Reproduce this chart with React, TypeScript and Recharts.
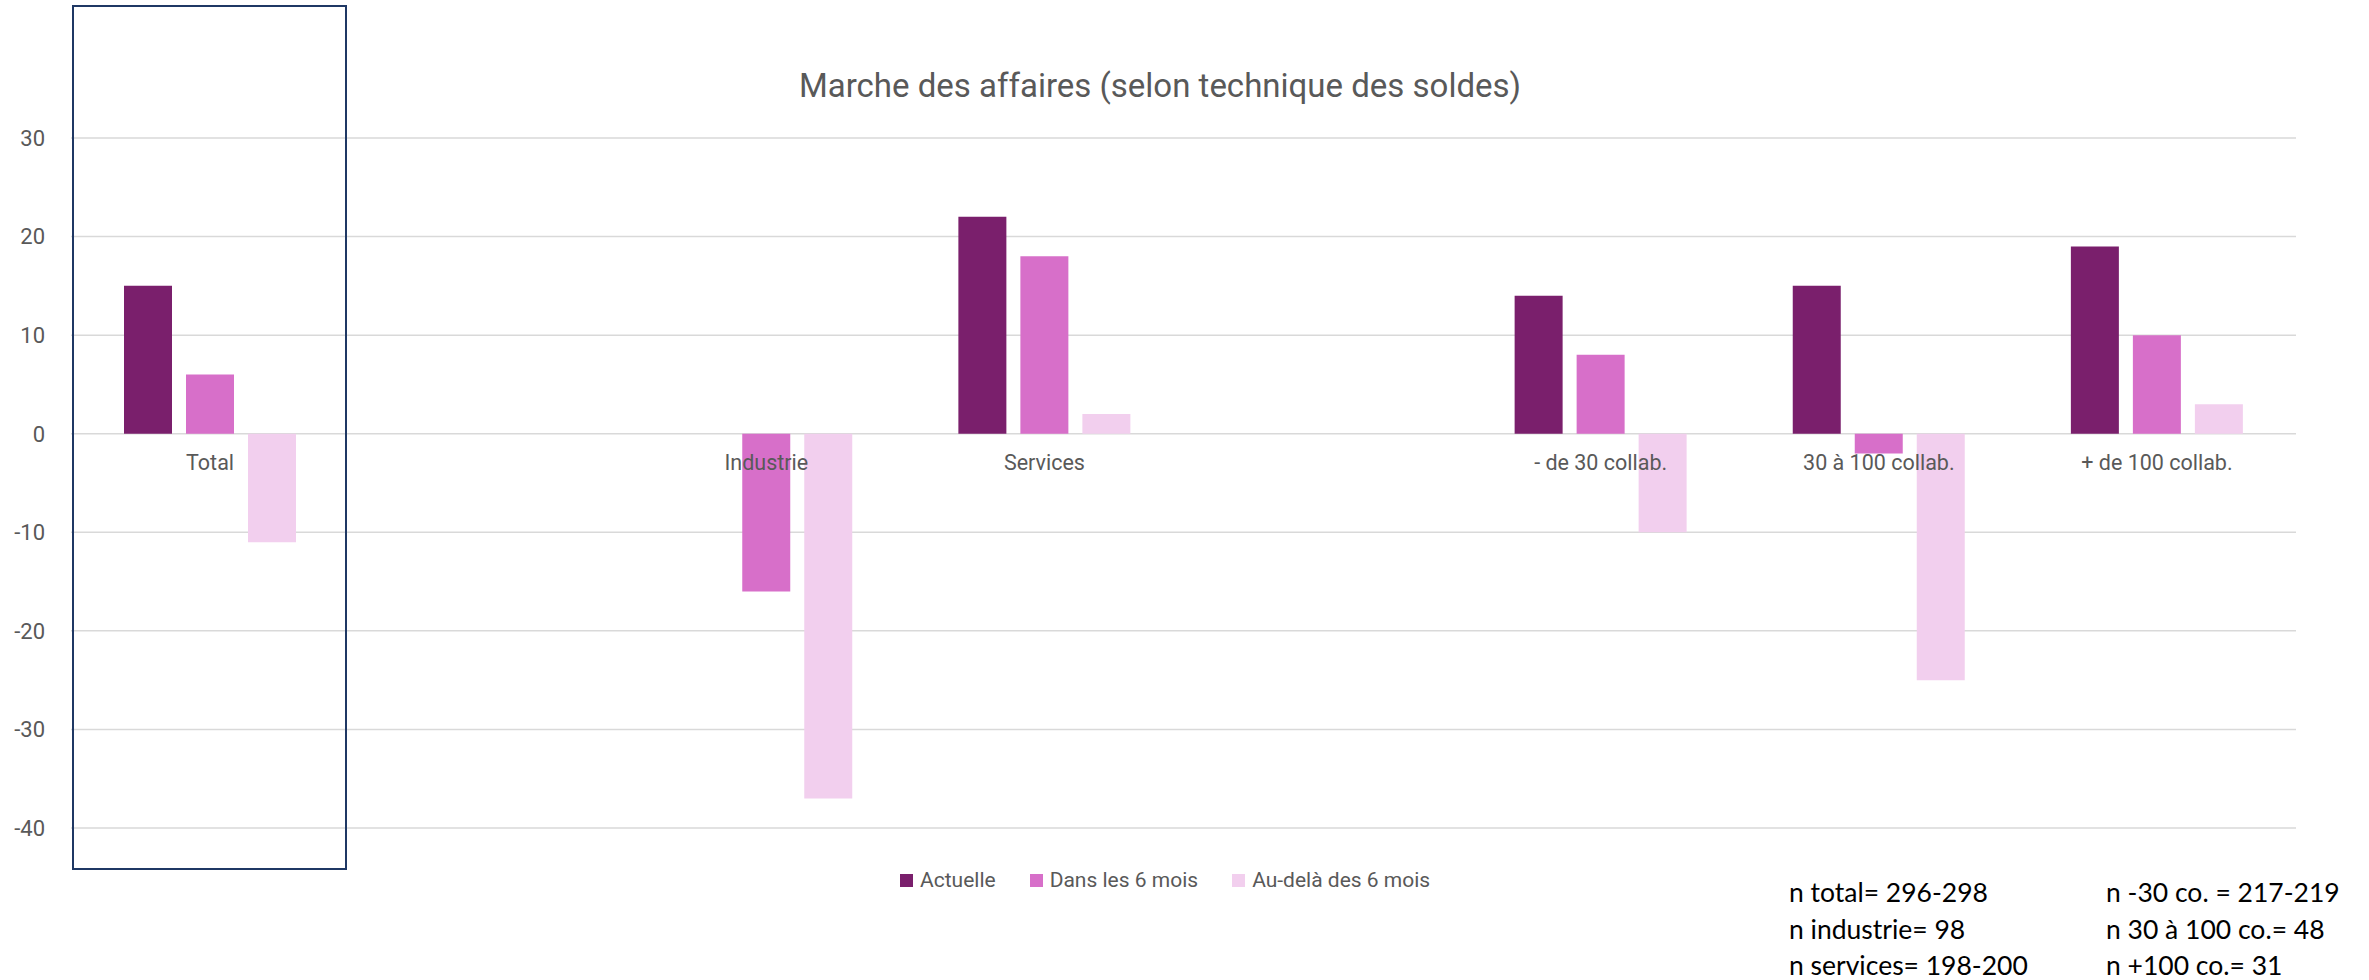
import React from "react";
import { ComposedChart, Bar, Line, XAxis, YAxis, CartesianGrid, LabelList } from "recharts";

const categories = ["Total", " ", "Industrie", "Services", "  ", "- de 30 collab.", "30 à 100 collab.", "+ de 100 collab."];
const actuelle = [15, null, 0, 22, null, 14, 15, 19];
const dansSixMois = [6, null, -16, 18, null, 8, -2, 10];
const auDela = [-11, null, -37, 2, null, -10, -25, 3];
const yTicks = [-40, -30, -20, -10, 0, 10, 20, 30];
const seriesNames = ["Actuelle", "Dans les 6 mois", "Au-delà des 6 mois"];
const seriesColors = ["#7A1F6C", "#D76FC9", "#F2CFEE"];
const notesLeft = ["n total= 296-298", "n industrie= 98", "n services= 198-200"];
const notesRight = ["n -30 co. = 217-219", "n 30 à 100 co.= 48", "n +100 co.= 31"];
const title = "Marche des affaires (selon technique des soldes)";

const data = categories.map((c, i) => ({
  cat: c,
  a: actuelle[i],
  d: dansSixMois[i],
  u: auDela[i],
  zero: 0,
}));

const FONT = "Roboto, 'Open Sans', sans-serif";
const TEXT = "#595959";

const CatLabel = (props: any) => {
  const { x, y, value } = props;
  if (!value || !String(value).trim()) return null;
  return (
    <text x={x} y={y + 31} textAnchor="middle" dominantBaseline="middle" fill={TEXT} fontSize={21.5} fontFamily={FONT}>
      {value}
    </text>
  );
};

export default function App() {
  return (
    <div style={{ position: "fixed", left: 0, top: 0, width: 2369, height: 980, background: "#fff", overflow: "hidden" }}>
      <ComposedChart width={2369} height={980} data={data} margin={{ top: 138, right: 73, bottom: 152, left: 0 }} barSize={48} barGap={14}>
        <CartesianGrid vertical={false} stroke="#D9D9D9" strokeWidth={1.5} />
        <XAxis dataKey="cat" hide />
        <YAxis
          domain={[-40, 30]}
          ticks={yTicks}
          axisLine={false}
          tickLine={false}
          width={71}
          tickSize={0}
          tickMargin={26}
          tick={{ fill: TEXT, fontSize: 22, fontFamily: FONT }}
        />
        <Bar dataKey="a" name={seriesNames[0]} fill={seriesColors[0]} isAnimationActive={false} />
        <Bar dataKey="d" name={seriesNames[1]} fill={seriesColors[1]} isAnimationActive={false} />
        <Bar dataKey="u" name={seriesNames[2]} fill={seriesColors[2]} isAnimationActive={false} />
        <Line dataKey="zero" stroke="none" dot={false} activeDot={false} legendType="none" isAnimationActive={false}>
          <LabelList dataKey="cat" content={CatLabel} />
        </Line>
      </ComposedChart>

      <div style={{ position: "absolute", left: 72, top: 5, width: 275, height: 865, border: "2.5px solid #1F3864", boxSizing: "border-box", pointerEvents: "none" }} />

      <div style={{ position: "absolute", left: 0, width: 2320, top: 64, textAlign: "center", fontFamily: FONT, fontSize: 33, color: TEXT, lineHeight: "44px" }}>
        {title}
      </div>

      <div style={{ position: "absolute", left: 900, top: 867, display: "flex", alignItems: "center", fontFamily: FONT, fontSize: 21, color: TEXT, lineHeight: "26px" }}>
        {seriesNames.map((n, i) => (
          <div key={n} style={{ display: "flex", alignItems: "center", marginRight: 34 }}>
            <div style={{ width: 13, height: 13, background: seriesColors[i], marginRight: 7 }} />
            <span>{n}</span>
          </div>
        ))}
      </div>

      <div style={{ position: "absolute", left: 1789, top: 874, fontFamily: "Lato, sans-serif", fontSize: 26.5, color: "#000", lineHeight: "36.5px", whiteSpace: "nowrap" }}>
        {notesLeft.map((t) => (<div key={t}>{t}</div>))}
      </div>
      <div style={{ position: "absolute", left: 2106, top: 874, fontFamily: "Lato, sans-serif", fontSize: 26.5, color: "#000", lineHeight: "36.5px", whiteSpace: "nowrap" }}>
        {notesRight.map((t) => (<div key={t}>{t}</div>))}
      </div>
    </div>
  );
}
